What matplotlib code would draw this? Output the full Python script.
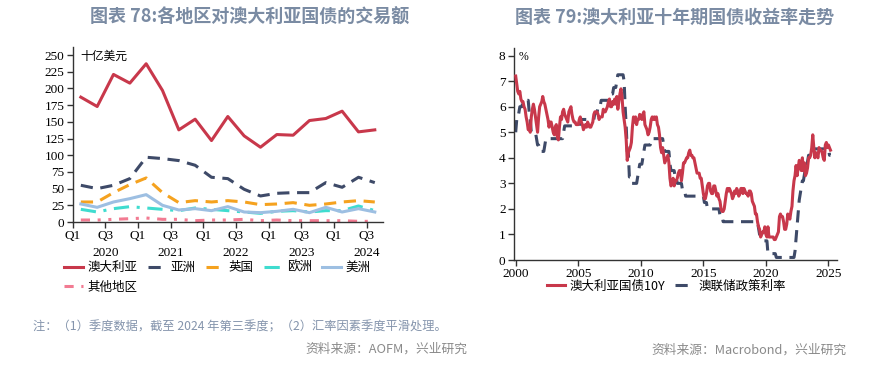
import matplotlib
matplotlib.use("Agg")
import matplotlib.pyplot as plt
import matplotlib.dates as mdates
import numpy as np
import pandas as pd

# ---- left chart: quarterly turnover by region (bn USD), 2020Q1 - 2024Q3
aus = [187, 173, 221, 208, 237, 197, 138, 154, 122, 158, 129, 112, 131, 130, 152, 155, 166, 135, 138]
asia = [55, 50, 55, 65, 97, 95, 92, 85, 67, 65, 49, 39, 43, 44, 44, 59, 52, 67, 59]
usa = [30, 30, 44, 56, 66, 44, 29, 32, 30, 32, 30, 26, 27, 29, 25, 27, 30, 32, 30]
europe = [19, 15, 20, 23, 21, 19, 17, 21, 19, 17, 15, 13, 16, 17, 15, 17, 17, 24, 17]
americas = [27, 22, 30, 35, 41, 25, 18, 20, 17, 23, 15, 14, 16, 19, 14, 22, 15, 20, 15]
other = [3, 3, 4, 5, 6, 4, 4, 2, 3, 3, 4, 2, 3, 2, 2, 2, 2, 1, 1]
q_labels = ["Q1", "Q3\n2020", "Q1", "Q3\n2021", "Q1", "Q3\n2022", "Q1", "Q3\n2023", "Q1", "Q3\n2024"]
left_names = ["澳大利亚", "亚洲", "英国", "欧洲", "美洲", "其他地区"]

# ---- right chart: monthly, Jan 2000 - Mar 2025
yield10y = [
    7.2, 6.9, 6.6, 6.5, 6.6, 6.3, 6.2, 6.2, 6.0, 5.9, 5.6, 5.4,
    5.1, 5.2, 5.0, 5.6, 5.9, 6.1, 5.9, 5.6, 5.3, 5.0, 5.6, 6.0,
    6.1, 6.2, 6.4, 6.2, 6.1, 5.9, 5.7, 5.5, 5.2, 5.4, 5.4, 5.2,
    5.0, 4.9, 5.2, 5.3, 4.8, 4.7, 5.2, 5.6, 5.5, 5.8, 5.9, 5.7,
    5.6, 5.5, 5.4, 5.8, 5.9, 6.0, 5.7, 5.5, 5.4, 5.4, 5.3, 5.3,
    5.3, 5.5, 5.6, 5.4, 5.3, 5.1, 5.2, 5.3, 5.2, 5.4, 5.3, 5.2,
    5.2, 5.3, 5.4, 5.7, 5.8, 5.8, 5.8, 5.7, 5.5, 5.6, 5.6, 5.6,
    5.9, 5.8, 5.8, 5.9, 6.0, 6.2, 6.3, 6.0, 6.0, 6.2, 6.1, 6.3,
    6.1, 6.4, 5.9, 6.2, 6.5, 6.7, 6.4, 5.8, 5.5, 5.2, 4.7, 3.9,
    4.2, 4.3, 4.4, 4.6, 5.2, 5.6, 5.4, 5.6, 5.3, 5.5, 5.5, 5.7,
    5.6, 5.5, 5.7, 5.8, 5.3, 5.2, 5.1, 4.9, 5.0, 5.2, 5.5, 5.6,
    5.5, 5.6, 5.5, 5.6, 5.3, 5.2, 4.9, 4.4, 4.2, 4.4, 4.1, 3.8,
    3.9, 4.0, 4.1, 3.8, 3.2, 2.9, 3.0, 3.2, 2.9, 3.1, 3.1, 3.2,
    3.4, 3.5, 3.5, 3.1, 3.4, 3.8, 3.8, 3.9, 4.0, 4.0, 4.2, 4.3,
    4.1, 4.1, 4.0, 4.0, 3.8, 3.6, 3.4, 3.4, 3.4, 3.2, 3.2, 2.9,
    2.6, 2.4, 2.4, 2.6, 2.9, 3.0, 3.0, 2.7, 2.6, 2.6, 2.9, 2.9,
    2.7, 2.5, 2.6, 2.4, 2.3, 2.0, 1.9, 1.9, 2.0, 2.3, 2.6, 2.8,
    2.7, 2.8, 2.7, 2.6, 2.4, 2.5, 2.7, 2.6, 2.8, 2.7, 2.5, 2.6,
    2.8, 2.8, 2.6, 2.8, 2.7, 2.6, 2.6, 2.5, 2.7, 2.7, 2.6, 2.3,
    2.2, 2.1, 1.8, 1.8, 1.5, 1.3, 1.2, 0.9, 1.0, 1.1, 1.1, 1.3,
    1.0, 0.9, 1.3, 0.9, 0.9, 0.9, 0.9, 0.9, 0.8, 0.8, 0.9, 1.0,
    1.1, 1.7, 1.8, 1.7, 1.7, 1.5, 1.2, 1.2, 1.4, 1.8, 1.7, 1.6,
    1.9, 2.1, 2.7, 3.1, 3.3, 3.7, 3.3, 3.6, 3.9, 3.8, 3.5, 4.0,
    3.5, 3.8, 3.3, 3.4, 3.6, 4.0, 4.0, 4.1, 4.4, 4.9, 4.4, 4.0,
    4.2, 4.1, 4.0, 4.4, 4.3, 4.3, 4.2, 4.0, 3.9, 4.5, 4.6, 4.4,
    4.5, 4.4, 4.3,
]
cash_rate = [
    5.0, 5.5, 5.5, 5.75, 6.0, 6.0, 6.0, 6.25, 6.25, 6.25, 6.25, 6.25,
    6.25, 5.75, 5.5, 5.0, 5.0, 5.0, 5.0, 5.0, 4.75, 4.5, 4.5, 4.25,
    4.25, 4.25, 4.25, 4.25, 4.5, 4.75, 4.75, 4.75, 4.75, 4.75, 4.75, 4.75,
    4.75, 4.75, 4.75, 4.75, 4.75, 4.75, 4.75, 4.75, 4.75, 4.75, 5.0, 5.25,
    5.25, 5.25, 5.25, 5.25, 5.25, 5.25, 5.25, 5.25, 5.25, 5.25, 5.25, 5.25,
    5.25, 5.25, 5.5, 5.5, 5.5, 5.5, 5.5, 5.5, 5.5, 5.5, 5.5, 5.5,
    5.5, 5.5, 5.5, 5.5, 5.75, 5.75, 5.75, 6.0, 6.0, 6.0, 6.25, 6.25,
    6.25, 6.25, 6.25, 6.25, 6.25, 6.25, 6.25, 6.5, 6.5, 6.5, 6.75, 6.75,
    6.75, 7.0, 7.25, 7.25, 7.25, 7.25, 7.25, 7.25, 7.0, 6.0, 5.25, 4.25,
    4.25, 3.25, 3.25, 3.0, 3.0, 3.0, 3.0, 3.0, 3.0, 3.25, 3.5, 3.75,
    3.75, 3.75, 4.0, 4.25, 4.5, 4.5, 4.5, 4.5, 4.5, 4.5, 4.75, 4.75,
    4.75, 4.75, 4.75, 4.75, 4.75, 4.75, 4.75, 4.75, 4.75, 4.75, 4.5, 4.25,
    4.25, 4.25, 4.25, 4.25, 3.75, 3.5, 3.5, 3.5, 3.5, 3.25, 3.25, 3.0,
    3.0, 3.0, 3.0, 3.0, 2.75, 2.75, 2.75, 2.5, 2.5, 2.5, 2.5, 2.5,
    2.5, 2.5, 2.5, 2.5, 2.5, 2.5, 2.5, 2.5, 2.5, 2.5, 2.5, 2.5,
    2.5, 2.25, 2.25, 2.25, 2.0, 2.0, 2.0, 2.0, 2.0, 2.0, 2.0, 2.0,
    2.0, 2.0, 2.0, 2.0, 1.75, 1.75, 1.75, 1.5, 1.5, 1.5, 1.5, 1.5,
    1.5, 1.5, 1.5, 1.5, 1.5, 1.5, 1.5, 1.5, 1.5, 1.5, 1.5, 1.5,
    1.5, 1.5, 1.5, 1.5, 1.5, 1.5, 1.5, 1.5, 1.5, 1.5, 1.5, 1.5,
    1.5, 1.5, 1.5, 1.5, 1.5, 1.25, 1.0, 1.0, 1.0, 0.75, 0.75, 0.75,
    0.75, 0.75, 0.25, 0.25, 0.25, 0.25, 0.25, 0.25, 0.25, 0.25, 0.1, 0.1,
    0.1, 0.1, 0.1, 0.1, 0.1, 0.1, 0.1, 0.1, 0.1, 0.1, 0.1, 0.1,
    0.1, 0.1, 0.1, 0.1, 0.35, 0.85, 1.35, 1.85, 2.35, 2.6, 2.85, 3.1,
    3.1, 3.35, 3.6, 3.6, 3.85, 4.1, 4.1, 4.1, 4.1, 4.1, 4.35, 4.35,
    4.35, 4.35, 4.35, 4.35, 4.35, 4.35, 4.35, 4.35, 4.35, 4.35, 4.35, 4.35,
    4.35, 4.1, 4.1,
]
right_names = ["澳大利亚国债10Y", "澳联储政策利率"]

RED = "#c8384b"
NAVY = "#3e4a68"
ORANGE = "#f5a21f"
CYAN = "#3fdccf"
LBLUE = "#9dbfe2"
PINK = "#f27b92"
TITLE_C = "#7a8ba3"

plt.rcParams["font.family"] = ["Liberation Serif", "Noto Sans CJK SC"]
plt.rcParams["axes.linewidth"] = 1.0
plt.rcParams["axes.edgecolor"] = "#333333"

fig = plt.figure(figsize=(8.83, 3.66), dpi=100)
cjk = ["Noto Sans CJK SC", "DejaVu Sans"]

fig.text(0.2826, 0.953, "图表 78:各地区对澳大利亚国债的交易额", ha="center", va="center",
         fontsize=13, fontweight="bold", color=TITLE_C, family=cjk)
fig.text(0.764, 0.953, "图表 79:澳大利亚十年期国债收益率走势", ha="center", va="center",
         fontsize=13, fontweight="bold", color=TITLE_C, family=cjk)

# ---------- left
ax1 = fig.add_axes([0.0823, 0.3934, 0.3514, 0.478])
xq = np.arange(len(aus)) + 0.5
ax1.plot(xq, aus, color=RED, lw=2.2, label=left_names[0])
ax1.plot(xq, asia, color=NAVY, lw=2.2, ls=(0, (4, 2.5)), label=left_names[1])
ax1.plot(xq, usa, color=ORANGE, lw=2.2, ls=(0, (4, 2.5)), label=left_names[2])
ax1.plot(xq, europe, color=CYAN, lw=2.2, ls=(0, (5, 2.5, 1, 2.5)), label=left_names[3])
ax1.plot(xq, americas, color=LBLUE, lw=2.2, label=left_names[4])
ax1.plot(xq, other, color=PINK, lw=2.2, ls=(0, (3, 2.5, 1, 2.5, 1, 2.5)), label=left_names[5])
ax1.set_xlim(0, len(aus))
ax1.set_ylim(0, 262)
ax1.set_yticks(range(0, 251, 25))
ax1.set_xticks(range(0, len(aus), 2))
ax1.set_xticklabels(q_labels, linespacing=1.55)
ax1.tick_params(axis="both", labelsize=9.5, length=4, width=1, color="#333333", pad=2)
for s in ["top", "right"]:
    ax1.spines[s].set_visible(False)
ax1.text(0.025, 0.985, "十亿美元", transform=ax1.transAxes, ha="left", va="top",
         fontsize=8.5, family=cjk)
# legend fills column by column: order so rows read 澳大利亚..美洲 / 其他地区
h, l = ax1.get_legend_handles_labels()
order = [0, 5, 1, 2, 3, 4]
fig.legend([h[i] for i in order], [l[i] for i in order], loc="upper left",
           bbox_to_anchor=(0.073, 0.287), ncol=5, frameon=False,
           prop={"family": cjk, "size": 9}, handlelength=1.5,
           handletextpad=0.35, columnspacing=0.8, borderpad=0, borderaxespad=0,
           labelspacing=0.55)

# ---------- right
ax2 = fig.add_axes([0.582, 0.2896, 0.366, 0.5794])
dates = pd.date_range("2000-01-01", periods=len(yield10y), freq="MS")
ax2.plot(dates, yield10y, color=RED, lw=2.2, label=right_names[0], zorder=3)
ax2.plot(dates[:len(cash_rate)], cash_rate, color=NAVY, lw=2.2, ls=(0, (4, 2.5)),
         label=right_names[1], zorder=2)
ax2.set_xlim(pd.Timestamp("1999-11-10"), pd.Timestamp("2025-09-10"))
ax2.set_ylim(0, 8.3)
ax2.set_yticks(range(0, 9))
ax2.xaxis.set_major_locator(mdates.YearLocator(5))
ax2.xaxis.set_major_formatter(mdates.DateFormatter("%Y"))
ax2.tick_params(axis="both", labelsize=9.5, length=4, width=1, color="#333333", pad=2)
for s in ["top", "right"]:
    ax2.spines[s].set_visible(False)
ax2.text(0.015, 0.985, "%", transform=ax2.transAxes, ha="left", va="top", fontsize=8.5)
fig.legend(*ax2.get_legend_handles_labels(), loc="upper left",
           bbox_to_anchor=(0.619, 0.236), ncol=2, frameon=False,
           prop={"family": cjk, "size": 9}, handlelength=1.5,
           handletextpad=0.35, columnspacing=0.8, borderpad=0, borderaxespad=0)

# ---------- notes
fig.text(0.037, 0.106, "注：（1）季度数据，截至 2024 年第三季度；（2）汇率因素季度平滑处理。",
         ha="left", va="center", fontsize=8.8, color="#8494ac", family=cjk)
fig.text(0.529, 0.046, "资料来源：AOFM，兴业研究", ha="right", va="center",
         fontsize=9.2, color="#8a8a8a", family=cjk)
fig.text(0.959, 0.044, "资料来源：Macrobond，兴业研究", ha="right", va="center",
         fontsize=9.2, color="#8a8a8a", family=cjk)

fig.savefig("out.png", dpi=100)
